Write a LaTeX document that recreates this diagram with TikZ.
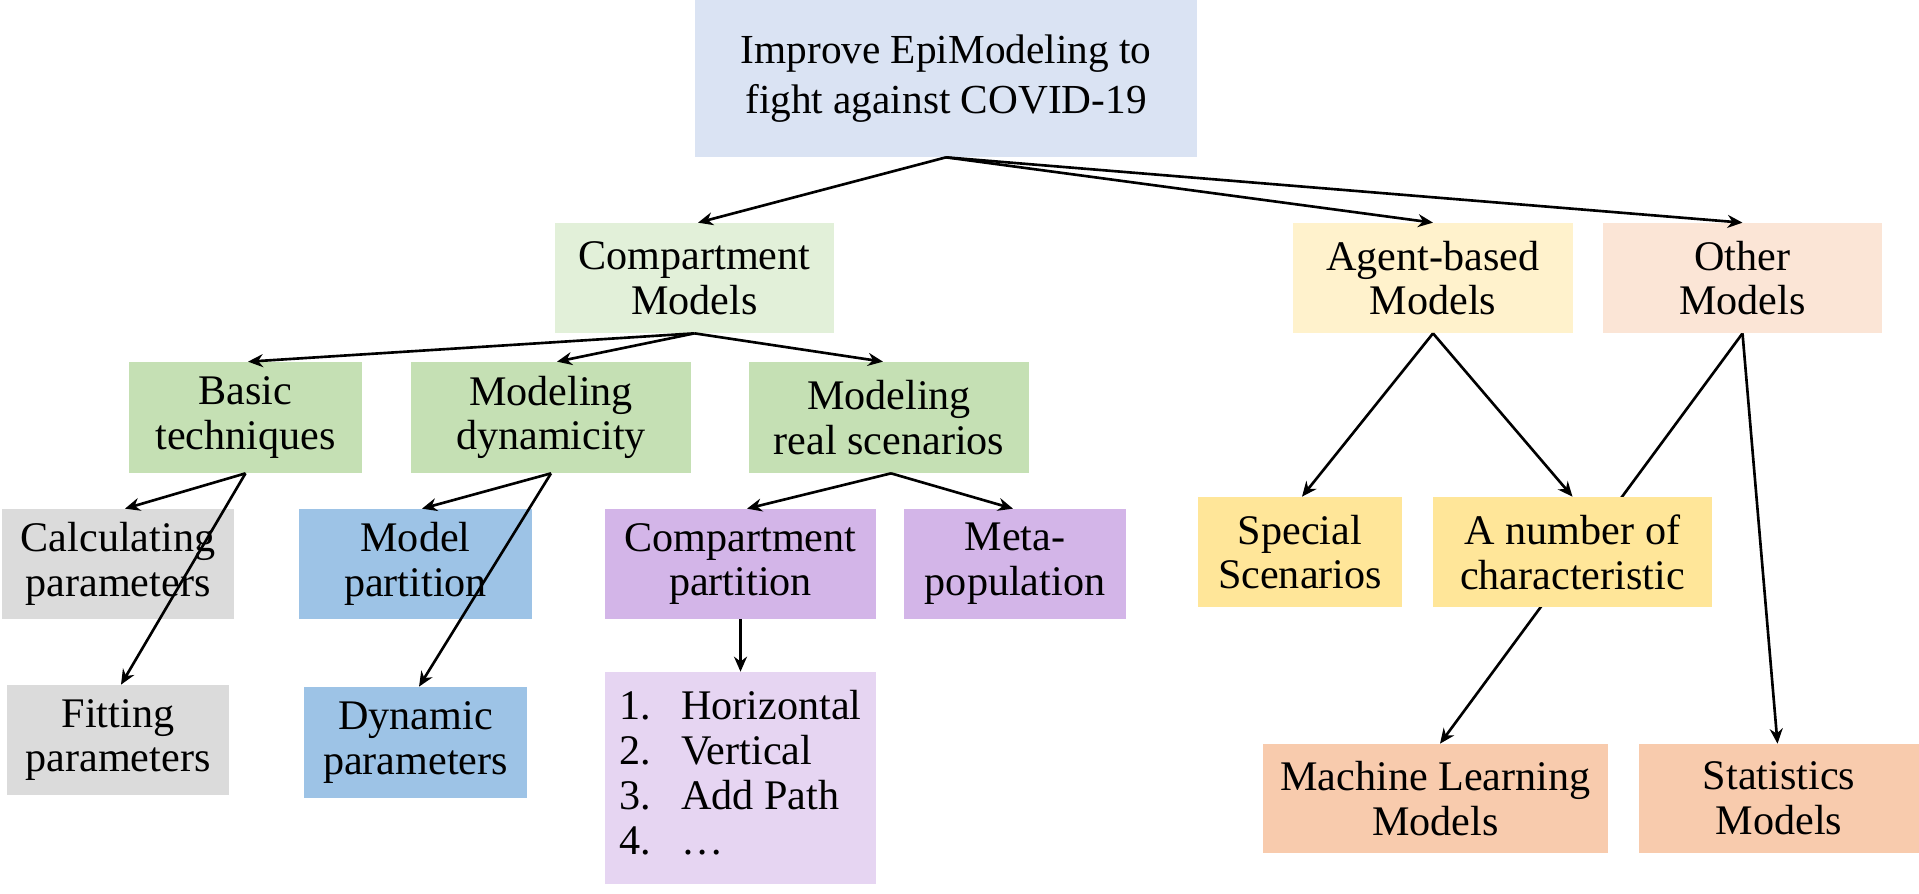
\documentclass[tikz,border=0pt]{standalone}
\usepackage{fontspec}
\setmainfont{Liberation Serif}
\usetikzlibrary{arrows.meta,backgrounds}
\definecolor{topc}{HTML}{DAE3F3}
\definecolor{cmc}{HTML}{E2F0D9}
\definecolor{grn}{HTML}{C5E0B4}
\definecolor{gry}{HTML}{DBDBDB}
\definecolor{blu}{HTML}{9DC3E6}
\definecolor{pur}{HTML}{D3B5E8}
\definecolor{lpur}{HTML}{E6D5F2}
\definecolor{agc}{HTML}{FFF2CC}
\definecolor{othc}{HTML}{FBE5D6}
\definecolor{yel}{HTML}{FFE699}
\definecolor{org}{HTML}{F8CBAD}
\tikzset{
  box/.style={inner sep=0pt, align=center, font=\fontsize{24}{25.5}\selectfont},
  arr/.style={line width=1.5pt, -{Stealth[length=0.3cm,width=0.26cm]}}
}
\begin{document}
\begin{tikzpicture}[x=0.02cm,y=-0.02cm]
\path[use as bounding box] (0,0) rectangle (1919,893);
% nodes
\node[box, fill=topc, minimum width=10.04cm, minimum height=3.14cm, font=\fontsize{23.5}{28.5}\selectfont] (top) at (946,78.5) {Improve EpiModeling to\\fight against COVID-19};
\node[box, fill=cmc, minimum width=5.58cm, minimum height=2.2cm] (cm) at (694.5,278) {Compartment\\Models};
\node[box, fill=agc, minimum width=5.6cm, minimum height=2.2cm] (agent) at (1433,278) {Agent-based\\Models};
\node[box, fill=othc, minimum width=5.58cm, minimum height=2.2cm] (other) at (1742.5,278) {Other\\Models};
\node[box, fill=grn, minimum width=4.66cm, minimum height=2.22cm] (basic) at (245.5,417.5) {Basic\\techniques};
\node[box, fill=grn, minimum width=5.6cm, minimum height=2.22cm] (moddyn) at (551,417.5) {Modeling\\dynamicity};
\node[box, fill=grn, minimum width=5.6cm, minimum height=2.22cm] (modreal) at (889,417.5) {Modeling\\real scenarios};
\node[box, fill=gry, minimum width=4.64cm, minimum height=2.2cm] (calc) at (118,564) {Calculating\\parameters};
\node[box, fill=blu, minimum width=4.66cm, minimum height=2.2cm] (mpart) at (415.5,564) {Model\\partition};
\node[box, fill=pur, minimum width=5.42cm, minimum height=2.2cm] (cpart) at (740.5,564) {Compartment\\partition};
\node[box, fill=pur, minimum width=4.44cm, minimum height=2.2cm] (meta) at (1015,564) {Meta-\\population};
\node[box, fill=gry, minimum width=4.44cm, minimum height=2.2cm] (fit) at (118,740) {Fitting\\parameters};
\node[box, fill=blu, minimum width=4.46cm, minimum height=2.22cm] (dynpar) at (415.5,742.5) {Dynamic\\parameters};
\node[box, fill=lpur, minimum width=5.42cm, minimum height=4.24cm] (list) at (740.5,778) {%
  \begin{tabular}{@{}l@{\hspace{0.6cm}}l@{}}
  1. & Horizontal\\
  2. & Vertical\\
  3. & Add Path\\
  4. & \ldots
  \end{tabular}};
\node[box, fill=yel, minimum width=4.08cm, minimum height=2.2cm] (special) at (1300,552) {Special\\Scenarios};
\node[box, fill=yel, minimum width=5.58cm, minimum height=2.2cm] (anum) at (1572.5,552) {A number of\\characteristic};
\node[box, fill=org, minimum width=6.9cm, minimum height=2.18cm] (ml) at (1435.5,798.5) {Machine Learning\\Models};
\node[box, fill=org, minimum width=5.6cm, minimum height=2.18cm] (stat) at (1779,798.5) {Statistics\\Models};
% connectors
\draw[arr] (top.south) -- ([xshift=0.07cm]cm.north);
\draw[arr] (top.south) -- (agent.north);
\draw[arr] (top.south) -- (other.north);
\draw[arr] (cm.south) -- ([xshift=0.05cm]basic.north);
\draw[arr] (cm.south) -- ([xshift=0.12cm]moddyn.north);
\draw[arr] (cm.south) -- ([xshift=-0.12cm]modreal.north);
\draw[arr] (basic.south) -- ([xshift=0.14cm]calc.north);
\draw[arr] (basic.south) -- ([xshift=0.06cm]fit.north);
\draw[arr] (moddyn.south) -- ([xshift=0.13cm]mpart.north);
\draw[arr] (moddyn.south) -- ([xshift=0.07cm]dynpar.north);
\draw[arr] ([xshift=0.04cm]modreal.south) -- ([xshift=0.13cm]cpart.north);
\draw[arr] ([xshift=0.04cm]modreal.south) -- ([xshift=-0.04cm]meta.north);
\draw[arr] (cpart.south) -- (list.north);
\draw[arr] (agent.south) -- ([xshift=0.04cm]special.north);
\draw[arr] (agent.south) -- (anum.north);
\draw[arr] (other.south) -- ([xshift=-0.03cm]stat.north);
\begin{scope}[on background layer]
\draw[arr] (other.south) -- ([xshift=0.09cm]ml.north);
\end{scope}
\end{tikzpicture}
\end{document}
